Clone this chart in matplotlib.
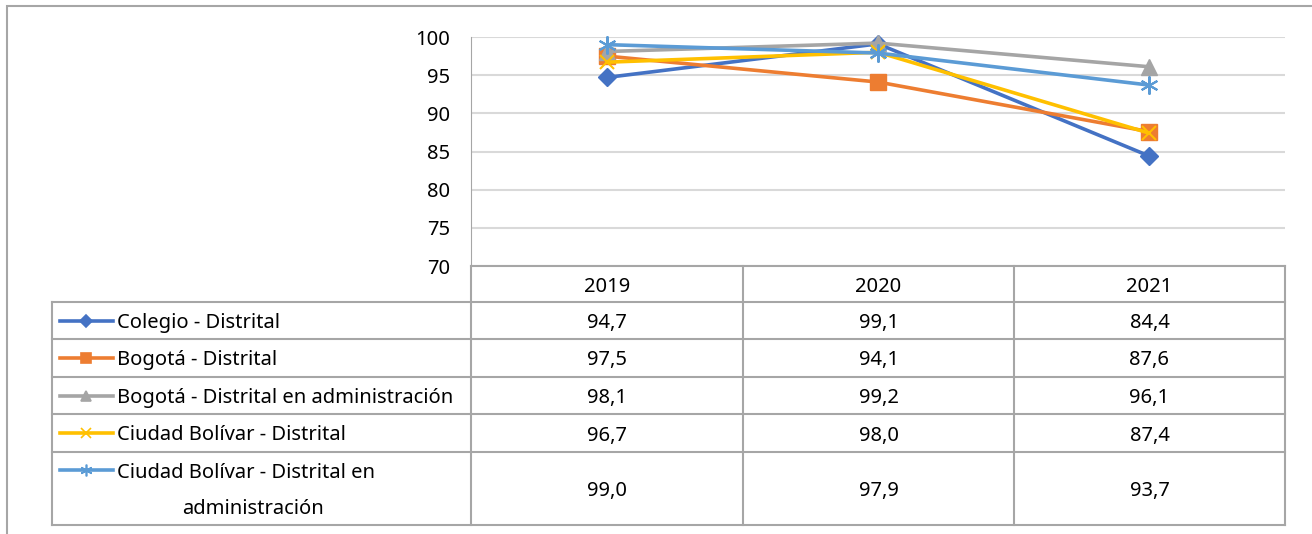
import matplotlib
matplotlib.use("Agg")
import matplotlib.pyplot as plt
from matplotlib.lines import Line2D
from matplotlib.patches import Rectangle

plt.rcParams["font.family"] = ["Noto Sans", "DejaVu Sans"]

years = ["2019", "2020", "2021"]
series = ["Colegio - Distrital", "Bogotá - Distrital",
          "Bogotá - Distrital en administración", "Ciudad Bolívar - Distrital",
          "Ciudad Bolívar - Distrital en\nadministración"]
colegio = [94.7, 99.1, 84.4]
bogota = [97.5, 94.1, 87.6]
bogota_adm = [98.1, 99.2, 96.1]
cbolivar = [96.7, 98.0, 87.4]
cbolivar_adm = [99.0, 97.9, 93.7]
values = [colegio, bogota, bogota_adm, cbolivar, cbolivar_adm]
yticks = [70, 75, 80, 85, 90, 95, 100]

colors = ["#4472C4", "#ED7D31", "#A5A5A5", "#FFC000", "#5B9BD5"]
markers = ["D", "s", "^", "x", (6, 2, 0)]
msizes = [9, 11, 11, 10, 13]
FS = 14.5

W, H = 1312, 534
fig = plt.figure(figsize=(W / 100, H / 100), dpi=100)


def fx(x):
    return x / W


def fy(y):
    return 1 - y / H


GRID = "#a6a6a6"
# outer chart frame (right/bottom cut off in the source)
fig.patches.append(Rectangle((fx(7), fy(540)), fx(1320) - fx(7), fy(6) - fy(540),
                             transform=fig.transFigure, fill=False, ec="#a6a6a6", lw=1.5))

# plot area
x0, x1, ytop, ybot = 471, 1285, 37, 266
ax = fig.add_axes([fx(x0), fy(ybot), fx(x1) - fx(x0), fy(ytop) - fy(ybot)])
ax.set_xlim(-0.5, len(years) - 0.5)
ax.set_ylim(70, 100)
ax.set_yticks(yticks)
ax.set_xticks([])
ax.grid(axis="y", color="#d9d9d9", lw=1.5)
ax.set_axisbelow(True)
for s in ["top", "right", "bottom"]:
    ax.spines[s].set_visible(False)
ax.spines["left"].set_color(GRID)
ax.tick_params(axis="y", length=0, labelsize=FS, pad=15)
for i, vals in enumerate(values):
    ax.plot(range(len(years)), vals, color=colors[i], lw=2.6, marker=markers[i],
            ms=msizes[i], mew=1.5 if i >= 3 else 1, mec=colors[i], mfc=colors[i],
            solid_capstyle="round", clip_on=False)

# data table
tab_left = 52
cols = [471, 743, 1014, 1285]
rows = [266, 302, 339, 377, 414, 452, 525]


def hline(y, xa, xb):
    fig.add_artist(Line2D([fx(xa), fx(xb)], [fy(y), fy(y)], color=GRID, lw=1.5))


def vline(x, ya, yb):
    fig.add_artist(Line2D([fx(x), fx(x)], [fy(ya), fy(yb)], color=GRID, lw=1.5))


hline(rows[0], cols[0], cols[-1])
for y in rows[1:]:
    hline(y, tab_left, cols[-1])
vline(tab_left, rows[1], rows[-1])
for x in cols:
    vline(x, rows[0], rows[-1])

VA = "center_baseline"
for j, yr in enumerate(years):
    fig.text(fx((cols[j] + cols[j + 1]) / 2), fy((rows[0] + rows[1]) / 2), yr,
             ha="center", va=VA, fontsize=FS)

for i, name in enumerate(series):
    yc = (rows[i + 1] + rows[i + 2]) / 2
    for j in range(len(years)):
        fig.text(fx((cols[j] + cols[j + 1]) / 2), fy(yc), f"{values[i][j]:.1f}".replace(".", ","),
                 ha="center", va=VA, fontsize=FS)
    ly = yc if "\n" not in name else rows[i + 1] + 18
    fig.add_artist(Line2D([fx(60), fx(113)], [fy(ly), fy(ly)], color=colors[i], lw=2.6))
    fig.add_artist(Line2D([fx(86)], [fy(ly)], color=colors[i], marker=markers[i],
                          ms=msizes[i] * 0.65, mec=colors[i], mfc=colors[i], mew=1.2))
    if "\n" in name:
        first, second = name.split("\n")
        fig.text(fx(117), fy(ly), first, ha="left", va=VA, fontsize=FS)
        fig.text(fx(253), fy(rows[i + 2] - 18), second, ha="center", va=VA, fontsize=FS)
    else:
        fig.text(fx(117), fy(ly), name, ha="left", va=VA, fontsize=FS)

fig.savefig("out.png", dpi=100)
